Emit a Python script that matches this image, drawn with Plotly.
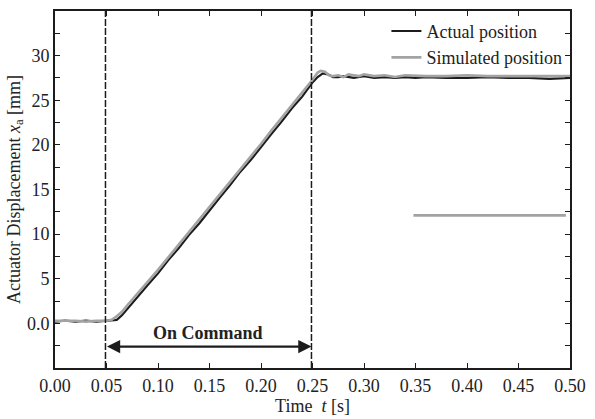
import plotly.graph_objects as go

# ---- data ----
t_actual = [0.000, 0.010, 0.020, 0.030, 0.040, 0.050, 0.055, 0.060, 0.065, 0.070,
            0.075, 0.080, 0.090, 0.100, 0.110, 0.120, 0.130, 0.140, 0.150, 0.160,
            0.170, 0.180, 0.190, 0.200, 0.210, 0.220, 0.230, 0.240, 0.245, 0.250,
            0.255, 0.260, 0.265, 0.270, 0.275, 0.280, 0.290, 0.300, 0.310, 0.320,
            0.330, 0.340, 0.350, 0.360, 0.380, 0.400, 0.420, 0.440, 0.460, 0.480, 0.500]
x_actual = [0.2, 0.3, 0.2, 0.3, 0.2, 0.3, 0.3, 0.4, 0.9, 1.6,
            2.3, 3.0, 4.3, 5.6, 7.1, 8.4, 9.9, 11.2, 12.7, 14.1,
            15.5, 17.0, 18.3, 19.8, 21.2, 22.6, 24.1, 25.4, 26.2, 27.0,
            27.6, 28.0, 27.9, 27.6, 27.6, 27.7, 27.5, 27.7, 27.5, 27.6,
            27.5, 27.6, 27.5, 27.6, 27.5, 27.5, 27.6, 27.5, 27.5, 27.4, 27.5]

t_sim = [0.000, 0.010, 0.020, 0.030, 0.040, 0.050, 0.055, 0.060, 0.065, 0.070,
         0.080, 0.090, 0.100, 0.110, 0.120, 0.130, 0.140, 0.150, 0.160, 0.170,
         0.180, 0.190, 0.200, 0.210, 0.220, 0.230, 0.240, 0.245, 0.250, 0.255,
         0.258, 0.262, 0.266, 0.270, 0.275, 0.280, 0.285, 0.290, 0.295, 0.300,
         0.310, 0.320, 0.330, 0.340, 0.360, 0.380, 0.400, 0.420, 0.440, 0.460, 0.480, 0.500]
x_sim = [0.3, 0.3, 0.3, 0.2, 0.3, 0.3, 0.4, 0.8, 1.3, 2.0,
         3.3, 4.7, 6.0, 7.4, 8.8, 10.2, 11.6, 13.0, 14.4, 15.9,
         17.3, 18.7, 20.1, 21.6, 23.0, 24.4, 25.8, 26.6, 27.3, 28.1,
         28.3, 28.2, 27.8, 27.7, 27.8, 27.6, 27.9, 27.8, 27.7, 27.9,
         27.7, 27.8, 27.6, 27.8, 27.7, 27.7, 27.8, 27.7, 27.7, 27.7, 27.7, 27.7]

t_extra = [0.348, 0.496]
x_extra = [12.1, 12.1]

command_times = [0.049, 0.249]
arrow_level = -2.6
label_level = 0.3
command_label = "On Command"

x_ticks = [0.00, 0.05, 0.10, 0.15, 0.20, 0.25, 0.30, 0.35, 0.40, 0.45, 0.50]
x_ticktext = ["0.00", "0.05", "0.10", "0.15", "0.20", "0.25", "0.30", "0.35", "0.40", "0.45", "0.50"]
y_major = [0, 5, 10, 15, 20, 25, 30]
y_ticktext = ["0.0", "5", "10", "15", "20", "25", "30"]

FONT = "Liberation Serif, Times New Roman, DejaVu Serif, serif"
TXT = "#222222"

fig = go.Figure()
fig.add_trace(go.Scatter(x=t_actual, y=x_actual, mode="lines", name="Actual position",
                         line=dict(color="#1c1c1c", width=2.2)))
fig.add_trace(go.Scatter(x=t_sim, y=x_sim, mode="lines", name="Simulated position",
                         line=dict(color="#a3a3a3", width=2.6)))
fig.add_trace(go.Scatter(x=t_extra, y=x_extra, mode="lines", showlegend=False,
                         line=dict(color="#a3a3a3", width=2.6)))

for ct in command_times:
    fig.add_shape(type="line", xref="x", yref="paper", x0=ct, x1=ct, y0=0, y1=1,
                  line=dict(color="#1c1c1c", width=1.5, dash="7px,2px"))

# double-headed arrow
fig.add_annotation(x=command_times[1], y=arrow_level, ax=command_times[0], ay=arrow_level,
                   xref="x", yref="y", axref="x", ayref="y", text="",
                   showarrow=True, arrowhead=2, startarrowhead=2, arrowside="end+start",
                   arrowsize=1.2, startarrowsize=1.2, arrowwidth=2.2, arrowcolor="#1c1c1c")
fig.add_annotation(x=(command_times[0] + command_times[1]) / 2, y=label_level,
                   xref="x", yref="y", text="<b>" + command_label + "</b>", showarrow=False,
                   yanchor="top", font=dict(family=FONT, size=18, color=TXT))

axis_common = dict(showline=True, linecolor="#1c1c1c", linewidth=2, mirror="ticks",
                   ticks="inside", tickcolor="#1c1c1c", tickwidth=1.2, ticklen=5,
                   showgrid=False, zeroline=False,
                   tickfont=dict(family=FONT, size=18, color=TXT))

fig.update_xaxes(range=[0, 0.5], tickvals=x_ticks, ticktext=x_ticktext,
                 title=dict(text="Time  <i>t</i> [s]", font=dict(family=FONT, size=18, color=TXT),
                            standoff=2),
                 **axis_common)
fig.update_yaxes(range=[-5, 35], tickvals=y_major, ticktext=y_ticktext,
                 minor=dict(dtick=2.5, tick0=0, ticks="inside", ticklen=5, tickcolor="#1c1c1c",
                            tickwidth=1.2, showgrid=False),
                 title=dict(text="Actuator Displacement <i>x</i><sub>a</sub> [mm]",
                            font=dict(family=FONT, size=18, color=TXT), standoff=2),
                 **axis_common)

fig.update_layout(width=595, height=419, margin=dict(l=55, r=22, t=9, b=51),
                  plot_bgcolor="white", paper_bgcolor="white",
                  font=dict(family=FONT, size=18, color=TXT),
                  legend=dict(x=0.995, y=0.995, xanchor="right", yanchor="top",
                              bgcolor="rgba(0,0,0,0)",
                              font=dict(family=FONT, size=18, color=TXT),
                              itemwidth=30, tracegroupgap=0))

fig.write_html("out.html")
